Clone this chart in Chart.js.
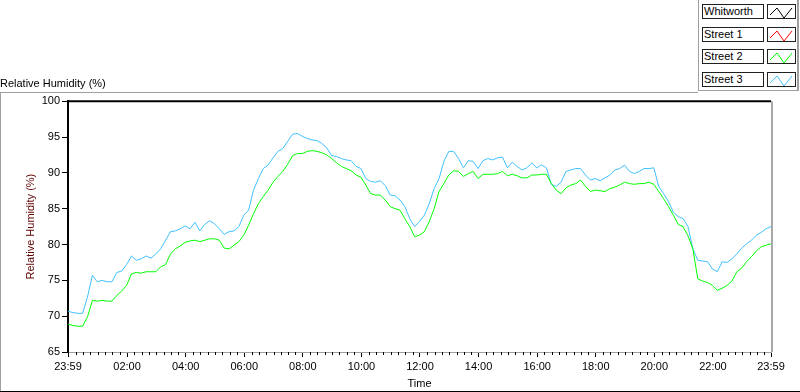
<!DOCTYPE html>
<html>
<head>
<meta charset="utf-8">
<script src="https://cdn.jsdelivr.net/npm/chart.js@4/dist/chart.umd.min.js"></script>
<style>
  body { margin: 0; background: #fff; font-family: "Liberation Sans", Arial, sans-serif; }
  #wrap { position: relative; width: 800px; height: 392px; overflow: hidden; }
  #humidity { position: absolute; left: 0; top: 0; }
  #legendPanel { position: absolute; left: 698px; top: 0; width: 98px; height: 90px;
    border-left: 1px solid #a0a0a0; border-right: 2px solid #a0a0a0; border-bottom: 1px solid #a0a0a0; }
  .legName { position: absolute; left: 3px; width: 59px; height: 13px; border: 1px solid #202020;
    font-size: 11px; line-height: 13px; padding-left: 1px; color: #000; background: #fff; white-space: nowrap; }
  .legSwatch { position: absolute; left: 68px; width: 27px; height: 13px; border: 1px solid #202020; background: #fff; }
</style>
</head>
<body>
<div id="wrap">
  <canvas id="humidity" width="800" height="392"></canvas>
  <div id="legendPanel"></div>
</div>
<script>
// series shown in the legend
var seriesNames = ["Whitworth", "Street 1", "Street 2", "Street 3"];
var seriesColors = ["#000000", "#ff0000", "#00ff00", "#40c0ff"];

// relative humidity (%), one reading every 10 minutes from 23:59
var whitworth = [];
var street1 = [];
var street2 = [
    68.9, 68.7, 68.6, 68.6, 69.9, 72.2, 72.1, 72.2, 72.1, 72.1,
    72.9, 73.5, 74.3, 75.9, 76.1, 76.0, 76.2, 76.2, 76.2, 76.9,
    77.2, 78.7, 79.4, 79.8, 80.3, 80.5, 80.6, 80.4, 80.6,
    80.8, 80.8, 80.6, 79.5, 79.4, 79.9, 80.4, 81.3, 82.7, 84.3,
    85.7, 86.7, 87.6, 88.7, 89.5, 90.2, 91.2, 92.4, 92.7, 92.7,
    93.0, 93.1, 93.0, 92.8, 92.5, 92.0, 91.4, 90.9, 90.6,
    90.3, 89.7, 89.4, 88.3, 87.1, 86.9, 86.9, 86.2, 85.3, 85.0,
    84.8, 83.6, 82.5, 81.1, 81.3, 81.8, 83.2, 85.0, 87.4, 88.5,
    89.7, 90.3, 90.2, 89.5, 89.9, 90.2, 89.2, 89.8, 89.8,
    89.8, 89.9, 90.2, 89.6, 89.8, 89.6, 89.3, 89.3, 89.7, 89.7,
    89.8, 89.8, 88.5, 87.6, 87.1, 87.9, 88.3, 88.5, 89.0, 88.1,
    87.4, 87.6, 87.5, 87.4, 87.8, 88.0, 88.3, 88.7, 88.5,
    88.4, 88.5, 88.5, 88.7, 88.4, 87.4, 86.4, 85.3, 84.1, 82.8,
    82.5, 81.2, 79.4, 75.2, 74.9, 74.7, 74.3, 73.6, 73.9, 74.3,
    74.9, 76.2, 76.7, 77.6, 78.3, 79.1, 79.7, 79.9, 80.1
];
var street3 = [
    70.7, 70.5, 70.4, 70.4, 72.7, 75.7, 74.8, 75.0, 74.8, 74.8,
    76.1, 76.3, 77.2, 78.4, 77.8, 78.0, 78.4, 78.1, 78.7, 79.4,
    80.6, 81.8, 81.9, 82.2, 82.6, 82.2, 83.1, 81.9, 82.8,
    83.3, 82.9, 82.2, 81.4, 81.8, 81.9, 82.5, 84.1, 84.8, 87.6,
    89.2, 90.6, 91.1, 92.1, 93.0, 93.4, 94.4, 95.4, 95.5, 95.1,
    94.8, 94.6, 94.5, 94.1, 93.5, 92.4, 92.3, 92.0, 91.8,
    91.7, 90.9, 90.6, 89.2, 88.8, 88.7, 88.9, 88.2, 86.9, 86.8,
    86.2, 85.3, 83.6, 82.5, 83.2, 84.1, 85.7, 87.8, 89.2, 91.6,
    93.0, 93.0, 92.0, 90.7, 91.7, 91.6, 90.6, 91.7, 92.0,
    91.8, 92.1, 92.2, 90.7, 91.5, 90.9, 90.4, 90.7, 91.4, 90.7,
    91.1, 90.7, 88.4, 88.1, 88.7, 90.2, 90.4, 90.6, 90.6, 89.7,
    89.0, 89.2, 88.9, 89.3, 89.7, 90.4, 90.6, 91.1, 90.2,
    89.9, 90.2, 90.6, 90.6, 90.7, 88.1, 87.1, 86.0, 84.5, 83.9,
    83.6, 82.5, 79.4, 77.8, 77.7, 77.6, 76.6, 76.2, 77.6, 77.5,
    78.0, 78.7, 79.5, 80.1, 80.6, 81.3, 81.7, 82.2, 82.5
];
var seriesValues = [whitworth, street1, street2, street3];

// x axis in minutes after midnight, starting at 23:59 the day before
var sampleStep = 10;
var xMin = -1, xMax = 1439;
var xTickValues = [-1, 120, 240, 360, 480, 600, 720, 840, 960, 1080, 1200, 1320, 1439];
var xTickLabels = ["23:59", "02:00", "04:00", "06:00", "08:00", "10:00", "12:00",
                   "14:00", "16:00", "18:00", "20:00", "22:00", "23:59"];
var minorStep = 15;
var yMin = 65, yMax = 100, yStep = 5;

var times = [];
for (let m = xMin; m <= xMax; m += sampleStep) {
    times.push(m);
}

var font = { family: "'Liberation Sans', Arial, sans-serif", size: 11, weight: 'normal' };

// LabVIEW-like frame: sunken plot border, minor x ticks, outer panel lines
var framePlugin = {
    id: 'frame',
    afterDraw(chart) {
        let ctx = chart.ctx;
        let a = chart.chartArea;
        let xs = chart.scales.x;
        ctx.save();
        ctx.lineWidth = 1;
        ctx.strokeStyle = '#000';
        ctx.beginPath();
        for (let m = 0; m < xMax; m += minorStep) {
            if (xTickValues.indexOf(m) >= 0) continue;
            let px = Math.round(xs.getPixelForValue(m)) + 0.5;
            ctx.moveTo(px, a.bottom);
            ctx.lineTo(px, a.bottom + 3);
        }
        ctx.stroke();

        // right edge of the plot
        ctx.strokeStyle = '#a8a8a8';
        ctx.lineWidth = 2;
        ctx.beginPath();
        ctx.moveTo(a.right + 1, a.top);
        ctx.lineTo(a.right + 1, a.bottom);
        ctx.stroke();
        // top edge of the plot
        ctx.strokeStyle = '#000';
        ctx.beginPath();
        ctx.moveTo(a.left - 1, a.top);
        ctx.lineTo(a.right, a.top);
        ctx.stroke();

        // outer panel
        ctx.lineWidth = 1;
        ctx.strokeStyle = '#a0a0a0';
        ctx.beginPath();
        ctx.moveTo(0, 92.5);
        ctx.lineTo(698, 92.5);
        ctx.moveTo(0.5, 92);
        ctx.lineTo(0.5, 392);
        ctx.stroke();
        ctx.strokeStyle = '#000';
        ctx.beginPath();
        ctx.moveTo(0, 391.5);
        ctx.lineTo(800, 391.5);
        ctx.stroke();
        ctx.restore();
    }
};

var datasets = seriesNames.map((name, i) => ({
    label: name,
    data: seriesValues[i].map((v, k) => ({ x: times[k], y: v })),
    borderColor: seriesColors[i],
    backgroundColor: seriesColors[i],
    borderWidth: 1,
    pointRadius: 0,
    tension: 0,
    fill: false
}));

new Chart(document.getElementById('humidity'), {
    type: 'line',
    data: { datasets: datasets },
    plugins: [framePlugin],
    options: {
        responsive: false,
        animation: false,
        layout: { padding: { top: 62, left: 0, right: 29, bottom: 0 } },
        plugins: {
            legend: { display: false },
            tooltip: { enabled: false },
            title: {
                display: true,
                text: 'Relative Humidity (%)',
                align: 'start',
                color: '#000',
                font: font,
                padding: { top: 15, bottom: 11 }
            }
        },
        scales: {
            x: {
                type: 'linear',
                min: xMin,
                max: xMax,
                afterBuildTicks: (scale) => {
                    scale.ticks = xTickValues.map(v => ({ value: v }));
                },
                afterFit: (scale) => { scale.height = 40; },
                ticks: {
                    autoSkip: false,
                    maxRotation: 0,
                    padding: 3,
                    color: '#000',
                    font: font,
                    callback: (v) => xTickLabels[xTickValues.indexOf(v)]
                },
                grid: { drawOnChartArea: false, tickLength: 5, tickColor: '#000' },
                border: { color: '#a0a0a0', width: 1 },
                title: { display: true, text: 'Time', color: '#000', font: font, padding: { top: 0, bottom: 1 } }
            },
            y: {
                min: yMin,
                max: yMax,
                afterFit: (scale) => { scale.width = 68; },
                ticks: { stepSize: yStep, padding: 2, color: '#000', font: font },
                grid: { drawOnChartArea: false, tickLength: 6, tickColor: '#000' },
                border: { color: '#000', width: 2 },
                title: { display: true, text: 'Relative Humidity (%)', color: '#600000', font: font, padding: { top: 24, bottom: 0 } }
            }
        }
    }
});

// legend panel, one row per series
var panel = document.getElementById('legendPanel');
seriesNames.forEach((name, i) => {
    let top = 4 + Math.round(i * 22.7);
    let box = document.createElement('div');
    box.className = 'legName';
    box.style.top = top + 'px';
    box.textContent = name;
    panel.appendChild(box);
    let sw = document.createElement('div');
    sw.className = 'legSwatch';
    sw.style.top = top + 'px';
    sw.innerHTML = '<svg width="27" height="13"><polyline points="2,9 9,2 16,12 24,2" fill="none" stroke="' +
        seriesColors[i] + '" stroke-width="1"/></svg>';
    panel.appendChild(sw);
});
</script>
</body>
</html>
